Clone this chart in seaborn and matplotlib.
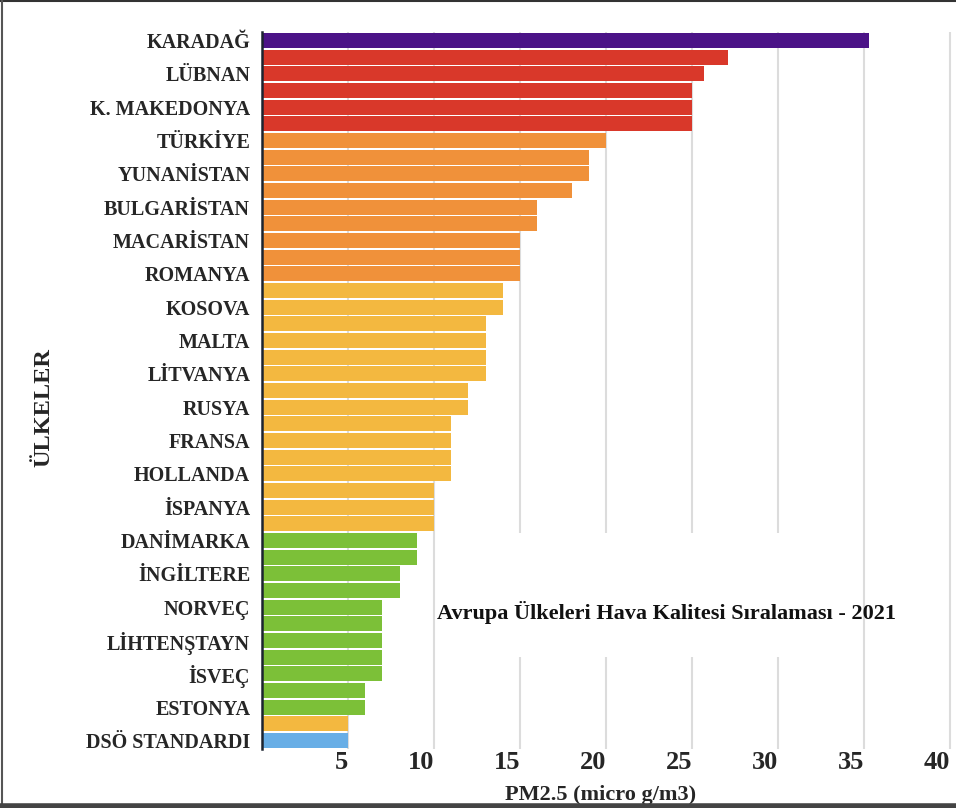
import matplotlib
matplotlib.use("Agg")
import matplotlib.pyplot as plt
from matplotlib.patches import Rectangle
from matplotlib.lines import Line2D
from matplotlib.transforms import ScaledTranslation
import seaborn as sns
import pandas as pd

# ---- data ----
country_labels = ["KARADAĞ", "LÜBNAN", "K. MAKEDONYA", "TÜRKİYE", "YUNANİSTAN",
                  "BULGARİSTAN", "MACARİSTAN", "ROMANYA", "KOSOVA", "MALTA",
                  "LİTVANYA", "RUSYA", "FRANSA", "HOLLANDA", "İSPANYA",
                  "DANİMARKA", "İNGİLTERE", "NORVEÇ", "LİHTENŞTAYN", "İSVEÇ",
                  "ESTONYA", "DSÖ STANDARDI"]
pm25 = [35.3, 27.1, 25.7, 25, 25, 25,
        20, 19, 19, 18, 16, 16, 15, 15, 15,
        14, 14, 13, 13, 13, 13, 12, 12, 11, 11, 11, 11, 10, 10, 10,
        9, 9, 8, 8, 7, 7, 7, 7, 7, 6, 6,
        5, 5]
levels = (["mor"] + ["kırmızı"] * 5 + ["turuncu"] * 9 + ["sarı"] * 15
          + ["yeşil"] * 11 + ["sarı"] + ["mavi"])
x_ticks = [5, 10, 15, 20, 25, 30, 35, 40]
title_text = "Avrupa Ülkeleri Hava Kalitesi Sıralaması - 2021"

palette = {"mor": "#4B1387", "kırmızı": "#D9382A", "turuncu": "#F0913A",
           "sarı": "#F3B840", "yeşil": "#7CC038", "mavi": "#68AEE6"}

df = pd.DataFrame({"sira": list(range(1, len(pm25) + 1)),
                   "pm25": pm25, "seviye": levels})

sns.set_theme(style="white")
plt.rcParams["font.family"] = ["Liberation Serif", "DejaVu Serif"]
plt.rcParams["font.weight"] = "bold"

fig = plt.figure(figsize=(9.56, 8.08), dpi=100)
ax = fig.add_axes([262 / 956, 59 / 808, 693 / 956, 717 / 808])

sns.barplot(data=df, x="pm25", y="sira", hue="seviye", palette=palette,
            orient="h", dodge=False, width=0.9, legend=False,
            saturation=1, linewidth=0, ax=ax)

ax.set_xlim(0, 40.3)
ax.set_axisbelow(True)
ax.grid(axis="x", color="#dcdcdc", linewidth=1.5)
ax.grid(axis="y", visible=False)
ax.set_xticks(x_ticks)
ax.set_xticklabels([str(t) for t in x_ticks], fontsize=19, fontweight="bold")
for lab in ax.get_xticklabels():
    lab.set_horizontalalignment("right")
    lab.set_transform(lab.get_transform() + ScaledTranslation(-5 / 100, 0, fig.dpi_scale_trans))

ax.set_yticks(list(range(0, len(pm25), 2)))
ax.set_yticklabels(country_labels, fontsize=14.5, fontweight="bold")
ax.tick_params(axis="y", length=0, pad=8.5)
ax.tick_params(axis="x", length=0, pad=1.5)

for side in ["top", "right", "bottom"]:
    ax.spines[side].set_visible(False)
ax.spines["left"].set_color("#1c2430")
ax.spines["left"].set_linewidth(1.8)

ax.set_xlabel("PM2.5 (micro g/m3)", fontsize=16, fontweight="bold", va="center")
ax.xaxis.set_label_coords(601 / 956, 13 / 808, transform=fig.transFigure)
ax.set_ylabel("ÜLKELER", fontsize=17.5, fontweight="bold", va="center")
ax.yaxis.set_label_coords(44 / 956, 400 / 808, transform=fig.transFigure)

# white title area inside the plot
ax.add_patch(Rectangle((0.257, 0.128), 0.603, 0.173, transform=ax.transAxes,
                       facecolor="white", edgecolor="none", zorder=0.8))
ax.text(0.583, 0.190, title_text, transform=ax.transAxes, ha="center",
        va="center", fontsize=16, fontweight="bold", color="#111111", zorder=3)

# image frame
fig.add_artist(Line2D([0, 1], [0.999, 0.999], transform=fig.transFigure,
                      color="#333333", linewidth=1.5))
fig.add_artist(Line2D([0.002, 0.002], [0, 1], transform=fig.transFigure,
                      color="#555555", linewidth=1.5))
fig.add_artist(Line2D([0, 1], [0.003, 0.003], transform=fig.transFigure,
                      color="#444444", linewidth=4))

fig.savefig("out.png", dpi=100)
